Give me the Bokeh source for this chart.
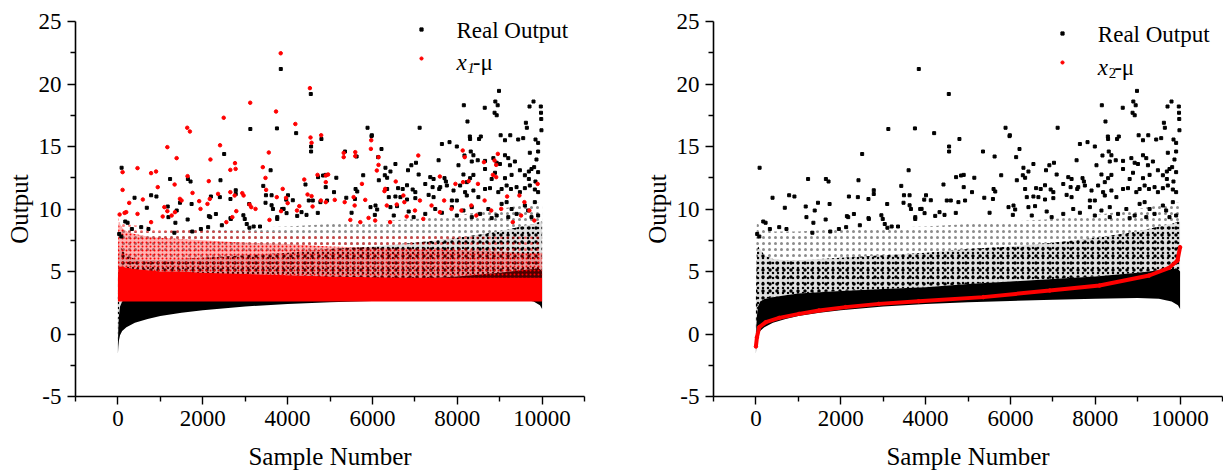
from bokeh.plotting import figure
from bokeh.models import Range1d, FixedTicker, Label, Legend, LegendItem
from bokeh.layouts import row
from bokeh.embed import file_html
from bokeh.resources import INLINE

# ---------------- data ----------------
# band knots (sample number)
band_x = [0, 10, 25, 50, 100, 200, 400, 700, 1000, 1500, 2000, 3000, 4000,
          5000, 6000, 7000, 8000, 9000, 9500, 9800, 9950, 10000]
# Real Output: lower envelope, solid core top, dense-scatter top, sparse-scatter top
real_low = [-1.6, -1.0, -0.5, -0.1, 0.25, 0.55, 0.9, 1.2, 1.45, 1.7, 1.9, 2.2, 2.4,
            2.55, 2.65, 2.75, 2.82, 2.88, 2.82, 2.6, 2.3, 2.0]
real_core = [-0.8, 0.5, 1.5, 2.2, 2.6, 2.8, 2.95, 3.1, 3.25, 3.35, 3.45, 3.6, 3.75,
             4.0, 4.2, 4.4, 4.6, 4.9, 5.1, 5.2, 5.2, 5.0]
real_mid = [3.0, 5.0, 6.5, 7.0, 6.8, 6.3, 6.0, 5.9, 5.9, 6.0, 6.1, 6.3, 6.5,
            6.8, 7.0, 7.3, 7.7, 8.2, 8.6, 8.8, 9.0, 9.0]
real_sparse = [4.0, 8.0, 9.0, 9.0, 8.6, 8.3, 8.2, 8.2, 8.2, 8.3, 8.4, 8.5, 8.6,
               8.8, 9.0, 9.2, 9.5, 10.0, 10.3, 10.5, 10.5, 10.5]
# x1-mu band (left chart)
x1_low = [2.6] * 22
x1_core = [4.5, 5.2, 5.4, 5.4, 5.4, 5.3, 5.2, 5.1, 5.0, 5.0, 4.9, 4.8, 4.7,
           4.6, 4.55, 4.5, 4.5, 4.5, 4.5, 4.5, 4.5, 4.5]
x1_mid = [6.0, 8.5, 9.0, 8.8, 8.5, 8.2, 8.0, 7.8, 7.7, 7.6, 7.5, 7.3, 7.2,
          7.0, 6.9, 6.8, 6.7, 6.6, 6.5, 6.5, 6.5, 6.5]
x1_sparse = [7.0, 9.5, 9.5, 9.3, 9.0, 8.8, 8.7, 8.6, 8.5, 8.4, 8.3, 8.2, 8.1,
             8.0, 8.0, 7.9, 7.8, 7.8, 7.8, 7.8, 7.8, 7.8]
# x2-mu curve (right chart)
x2_x = [0, 24, 80, 235, 549, 1018, 1487, 2113, 2896, 3836, 5361, 6925, 8099,
        9272, 9742, 9939, 10000]
x2_y = [-1.0, -0.26, 0.55, 0.95, 1.29, 1.61, 1.88, 2.15, 2.41, 2.62, 2.95, 3.48,
        3.88, 4.68, 5.29, 5.88, 6.95]

# Real Output: individual outlying samples (same in both charts)
real_pts_x = [
    87, 3840, 3122, 3749, 2505, 3600, 1230, 1650, 1712, 2418, 392, 783, 908, 681, 1174,
    1463, 1737, 2192, 2403, 2653, 2778, 2778, 3427, 3490, 3623, 3480, 3623, 4010, 4123, 3095,
    30, 80, 173, 228, 329, 549, 720, 1331, 1355, 1753, 1956, 2127, 2176, 2310, 2450,
    2662, 2958, 2990, 3037, 3100, 3200, 3350, 3756, 3873, 3655,
    4547, 4202, 4554, 4554, 4798, 3968, 4422, 4500, 4594, 4719, 4837,
    1191, 1386, 1644, 2145, 2654, 3906, 3976, 3757, 4227, 4329, 4446, 4712, 4774, 4931,
    5885, 5986, 7113, 8155, 8241, 8648, 8984, 8898, 8953, 8880, 8930, 9023, 9250, 9618,
    9641, 9704, 9798, 9970, 9975, 9980, 9985, 8297, 8555,
    5979, 7638, 7818, 7990, 8303, 8514, 9125, 9437, 9555, 9845, 9907,
    5353, 5627, 6214, 6135, 6542, 6918, 7027, 7560, 8170, 8318, 8381, 8342, 8483, 8655,
    8851, 8929, 9007, 9125, 9203, 9242, 9359, 9711, 9868, 9907, 8029,
    5783, 6307, 6425, 6292, 6347, 6151, 6839, 7090, 7364, 7442, 7700, 7732, 7599, 8146,
    8225, 8303, 8381, 8655, 8811, 8890, 9125, 9477, 9281, 9594, 9688, 9750, 9813, 9907,
    9688, 9844, 4899, 5149,
    4899, 5095, 5384, 5603, 5642, 5588, 6347, 6605, 6714, 6816, 6949, 7012, 7246, 7419,
    7575, 7755, 7325, 7442, 6542, 6386, 6660, 6816, 7012, 7912, 8068, 8185, 8225, 8381,
    8498, 8655, 8772, 8968, 9046, 9164, 9266, 9398, 9477, 9594, 9711, 9829, 9907, 7873, 7990,
    5509, 5955, 6073, 6112, 6057, 6425, 6581, 6503, 6855, 6972, 7246, 7481, 7638, 7873,
    7990, 8146, 8342, 8538, 8733, 8929, 9046, 9164, 9281, 9398, 9594, 9672, 9829, 9907,
    9750, 9203, 8811, 8342]
real_pts_y = [
    13.3, 21.2, 16.4, 16.45, 14.4, 13.1, 12.4, 12.4, 12.2, 12.3, 10.9, 11.1, 11.0, 10.1, 10.2,
    10.5, 10.4, 11.0, 10.95, 10.8, 11.5, 11.2, 11.85, 11.1, 11.1, 10.5, 10.3, 11.1, 10.7, 10.4,
    8.0, 7.8, 9.0, 8.9, 8.4, 8.55, 8.4, 8.1, 8.9, 8.2, 8.4, 8.55, 9.35, 9.6, 8.7,
    9.2, 9.5, 9.2, 8.8, 8.5, 8.6, 8.6, 9.2, 10.0, 10.0,
    19.2, 16.07, 15.0, 14.6, 15.6, 10.75, 11.96, 10.68, 10.68, 12.55, 12.68,
    9.35, 9.88, 9.16, 9.43, 9.27, 10.01, 9.67, 9.35, 9.45, 9.75, 9.53, 9.69, 10.55, 10.68,
    16.5, 15.9, 16.5, 18.3, 17.0, 18.1, 19.45, 18.6, 18.3, 17.7, 17.5, 15.9, 15.9, 16.9,
    16.5, 18.2, 18.6, 18.2, 17.7, 17.2, 16.3, 15.8, 15.8,
    15.83, 15.2, 15.35, 15.0, 15.6, 15.6, 15.5, 15.56, 15.67, 15.56, 15.29,
    14.6, 14.2, 14.8, 14.15, 13.6, 13.5, 13.7, 13.9, 14.28, 14.6, 14.3, 13.8, 13.9, 13.85,
    14.07, 13.7, 13.6, 14.3, 14.07, 13.5, 13.8, 14.5, 13.96, 14.6, 13.5,
    12.7, 13.3, 13.0, 12.7, 12.5, 12.3, 13.1, 12.76, 12.55, 12.4, 12.47, 12.2, 11.75, 12.76,
    12.15, 12.47, 12.73, 13.2, 12.4, 12.9, 12.47, 13.1, 12.73, 12.7, 13.0, 13.2, 13.35, 12.95,
    12.4, 12.2, 12.73, 12.5,
    11.75, 11.35, 10.9, 11.6, 11.4, 10.8, 11.6, 11.67, 11.6, 11.9, 11.56, 11.35, 12.0, 11.75,
    11.6, 11.88, 11.13, 10.95, 11.0, 10.95, 10.95, 10.76, 10.87, 11.48, 11.88, 11.35, 11.08, 11.48,
    10.95, 11.6, 11.67, 11.35, 11.6, 11.88, 11.6, 11.75, 11.35, 11.67, 11.88, 11.56, 11.35, 10.68, 10.68,
    9.7, 10.15, 10.28, 9.96, 9.53, 10.15, 10.23, 9.48, 9.8, 9.35, 9.61, 10.0, 9.7, 10.15,
    9.48, 9.88, 10.15, 9.61, 10.0, 9.48, 10.41, 10.55, 10.0, 9.61, 10.28, 9.88, 10.55, 9.48,
    9.35, 9.35, 9.27, 9.35]

# x1-mu: individual outlying samples (left chart)
x1_pts_x = [
    3838, 3119, 3728, 4183, 2494, 1634, 1697, 1165, 2408, 4526, 4541, 4565, 4792, 5972,
    1384, 2181, 2760, 2775, 2650, 3557, 3416, 3479, 110, 462, 782, 899, 110, 939, 1337,
    1642, 2142, 1759, 266, 587, 40, 157, 196, 462, 782, 1095, 1056, 1165, 1267, 1345,
    1462, 1501, 1916, 1947, 2111, 2166, 2361, 2556, 2697, 2791, 2650, 2752, 2932, 2963,
    3103, 3143, 3244, 3494, 3745, 3885, 3963, 4002, 3846, 4276, 4393, 4471, 4565, 4706,
    4901, 4901, 4784, 4901, 4589, 4221, 3573,
    5323, 5323, 5596, 5596, 5964, 6144, 7081, 8129, 8957, 8176, 8629, 8879, 8918, 4956,
    5753, 6104, 6144, 6550, 6300, 6284, 6730, 7590, 7957, 8136, 8269, 8488, 8840, 8918,
    9176, 9465, 9583, 9895, 5557, 5581, 5346, 5112, 5831, 6339, 6573, 6753, 6808, 7120,
    7394, 7590, 7691, 7863, 8098, 8332, 8449, 8645, 8801, 9036, 9309, 9505, 9700, 9817,
    5479, 5714, 5909, 6065, 6417, 7003, 7199]
x1_pts_y = [
    22.46, 18.5, 17.8, 16.8, 17.3, 16.5, 16.2, 14.95, 15.1, 19.67, 15.72, 15.3, 15.9, 15.5,
    14.07, 13.96, 13.67, 13.21, 13.13, 14.52, 13.35, 12.49, 12.95, 13.27, 12.87, 13.0, 11.53, 11.75, 11.96,
    12.63, 12.23, 11.29, 10.49, 10.76, 9.56, 9.69, 9.75, 9.61, 8.95, 10.15, 9.4, 9.83, 9.48, 9.75,
    10.81, 10.68, 10.63, 10.01, 10.41, 10.81, 11.21, 8.95, 9.35, 9.83, 11.35, 11.08, 11.27, 11.08,
    10.36, 10.15, 10.01, 11.53, 10.95, 11.61, 10.89, 10.47, 9.83, 10.23, 12.36, 11.16, 11.03, 12.73,
    12.68, 12.15, 10.68, 10.55, 10.2, 9.88, 9.13,
    14.49, 14.15, 14.55, 14.23, 14.81, 14.15, 14.28, 14.68, 14.41, 14.15, 13.75, 13.88, 13.53, 12.76,
    12.01, 13.08, 13.53, 12.2, 11.61, 11.43, 11.08, 12.6, 12.01, 12.15, 12.23, 12.01, 12.73, 12.55,
    11.0, 11.08, 10.55, 12.01, 10.95, 10.28, 10.55, 10.73, 10.73, 10.28, 10.36, 10.55, 9.4, 10.68,
    10.28, 9.75, 10.68, 10.01, 9.88, 10.28, 9.48, 10.68, 9.88, 10.01, 8.95, 9.48, 9.88, 9.08,
    9.13, 8.95, 9.29, 9.08, 8.95, 9.88, 9.21]

x_major = [0, 2000, 4000, 6000, 8000, 10000]
x_minor = [-1000, 1000, 3000, 5000, 7000, 9000, 11000]
y_major = [-5, 0, 5, 10, 15, 20, 25]
y_minor = [-2.5, 2.5, 7.5, 12.5, 17.5, 22.5]
y_labels = ["-5", "0", "5", "10", "15", "20", "25"]

FONT = "Liberation Serif"
RED = "#ff0000"


def make_fig(width, left_border, right_border):
    p = figure(width=width, height=476, output_backend="svg", toolbar_location=None,
               x_range=Range1d(-1000, 11000), y_range=Range1d(-5, 25),
               min_border_left=left_border, min_border_right=right_border,
               min_border_top=21, min_border_bottom=80)
    p.outline_line_color = None
    p.grid.visible = False
    p.background_fill_color = "white"
    p.border_fill_color = "white"
    p.xaxis.ticker = FixedTicker(ticks=x_major, minor_ticks=x_minor)
    p.yaxis.ticker = FixedTicker(ticks=y_major, minor_ticks=y_minor)
    p.yaxis.major_label_overrides = {v: s for v, s in zip(y_major, y_labels)}
    for ax in (p.xaxis, p.yaxis):
        ax.axis_line_width = 1.6
        ax.major_tick_line_width = 1.4
        ax.minor_tick_line_width = 1.4
        ax.major_tick_out = 8
        ax.major_tick_in = 0
        ax.minor_tick_out = 5
        ax.minor_tick_in = 0
        ax.major_label_text_font = FONT
        ax.major_label_text_font_size = "23px"
        ax.major_label_text_color = "black"
        ax.axis_label_text_font = FONT
        ax.axis_label_text_font_size = "25px"
        ax.axis_label_text_font_style = "normal"
        ax.axis_label_text_color = "black"
    p.xaxis.axis_label = "Sample Number"
    p.yaxis.axis_label = "Output"
    p.xaxis.major_label_standoff = 6
    p.yaxis.major_label_standoff = 6
    p.xaxis.axis_label_standoff = 14
    p.yaxis.axis_label_standoff = 3
    return p


def real_layers(p):
    p.varea(x=band_x, y1=real_low, y2=real_core, fill_color="black", fill_alpha=1.0)
    p.varea(x=band_x, y1=real_core, y2=real_mid, fill_color="black", fill_alpha=0.12,
            hatch_pattern="dot", hatch_color="black", hatch_scale=5, hatch_alpha=1.0)
    p.varea(x=band_x, y1=real_core, y2=real_mid, fill_alpha=0.0,
            hatch_pattern="dot", hatch_color="black", hatch_scale=7, hatch_alpha=1.0)
    p.varea(x=band_x, y1=real_mid, y2=real_sparse, fill_alpha=0.0,
            hatch_pattern="dot", hatch_color="black", hatch_scale=6, hatch_alpha=0.45)


def legend(p, rend_black, rend_red, loc, x_text, y1, y2, sub, sub_style):
    lg = Legend(items=[LegendItem(label=" ", renderers=[rend_black]),
                       LegendItem(label=" ", renderers=[rend_red])],
                location=loc, glyph_width=8, glyph_height=8, label_height=8,
                label_width=1, label_text_font_size="1px", spacing=21, padding=0,
                margin=0, border_line_color=None, background_fill_alpha=0.0)
    p.add_layout(lg)
    p.add_layout(Label(x=x_text, y=y1, text="Real Output", text_font=FONT,
                       text_font_size="23px", text_color="black", text_baseline="alphabetic"))
    p.add_layout(Label(x=x_text, y=y2, text="x", text_font=FONT, text_font_style="italic",
                       text_font_size="23px", text_color="black", text_baseline="alphabetic"))
    p.add_layout(Label(x=x_text + 255, y=y2 - 0.45, text=sub, text_font=FONT,
                       text_font_style=sub_style, text_font_size="15px", text_color="black",
                       text_baseline="alphabetic"))
    p.add_layout(Label(x=x_text + 385, y=y2, text="-μ", text_font=FONT,
                       text_font_size="23px", text_color="black", text_baseline="alphabetic"))


# ---------------- left chart ----------------
p1 = make_fig(640, 75, 56)
real_layers(p1)
p1.varea(x=band_x, y1=x1_low, y2=x1_core, fill_color=RED, fill_alpha=1.0)
p1.varea(x=band_x, y1=x1_core, y2=x1_mid, fill_color=RED, fill_alpha=0.3,
         hatch_pattern="dot", hatch_color=RED, hatch_scale=4, hatch_alpha=1.0)
p1.varea(x=band_x, y1=x1_mid, y2=x1_sparse, fill_alpha=0.0,
         hatch_pattern="dot", hatch_color=RED, hatch_scale=6, hatch_alpha=0.5)
r_black1 = p1.scatter(real_pts_x, real_pts_y, marker="square", size=3, color="black")
r_red1 = p1.scatter(x1_pts_x, x1_pts_y, marker="circle", size=3.5, color=RED)
legend(p1, r_black1, r_red1, (342, 334), 7981, 24.28, 21.72, "1", "italic")

# ---------------- right chart ----------------
p2 = make_fig(583, 72, 1)
real_layers(p2)
r_black2 = p2.scatter(real_pts_x, real_pts_y, marker="square", size=3, color="black")
p2.line(x2_x, x2_y, line_color=RED, line_width=4)
r_red2 = p2.scatter(x2_x, x2_y, marker="circle", size=3.5, color=RED)
legend(p2, r_black2, r_red2, (345, 330), 8061, 23.96, 21.32, "2", "normal")

layout = row(p1, p2)
open("out.html", "w").write(file_html(layout, INLINE))
